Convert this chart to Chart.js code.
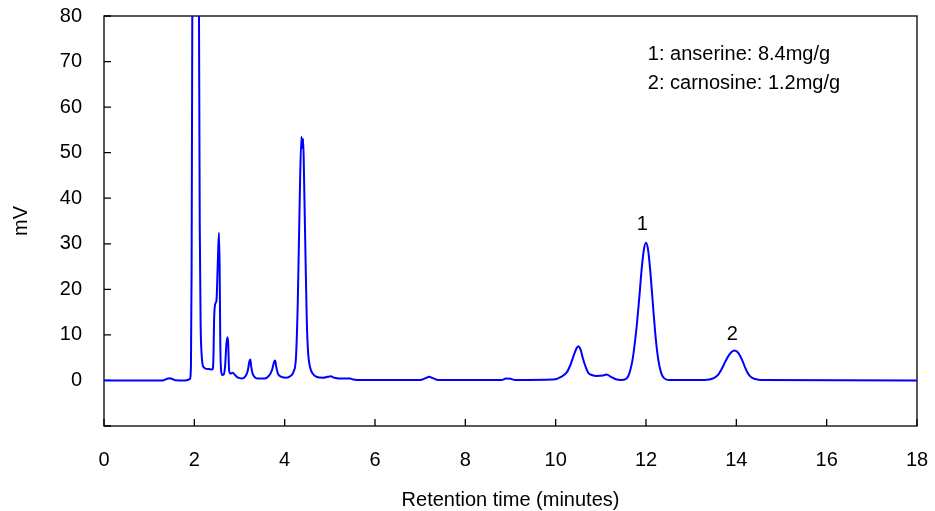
<!DOCTYPE html>
<html>
<head>
<meta charset="utf-8">
<script src="https://cdn.jsdelivr.net/npm/chart.js@4.4.0/dist/chart.umd.min.js"></script>
<style>
  html, body { margin: 0; padding: 0; background: #fff; }
  #wrap { width: 935px; height: 511px; position: relative; }
</style>
</head>
<body>
<div id="wrap"><canvas id="chromChart"></canvas></div>
<script>
// retention time (min) and detector signal (mV)
const times = [
    0, 1.0, 1.30, 1.38, 1.45, 1.52, 1.58, 1.80, 1.90, 1.925,
    1.94, 1.96, 1.99, 2.04, 2.10, 2.12, 2.14, 2.16, 2.19, 2.25,
    2.32, 2.40, 2.42, 2.44, 2.47, 2.49, 2.52, 2.545, 2.56, 2.575,
    2.59, 2.62, 2.65, 2.68, 2.71, 2.735, 2.75, 2.77, 2.80, 2.85,
    2.90, 2.97, 3.05, 3.12, 3.18, 3.22, 3.24, 3.26, 3.29, 3.35,
    3.42, 3.55, 3.65, 3.72, 3.77, 3.79, 3.81, 3.85, 3.93, 4.04,
    4.12, 4.20, 4.25, 4.29, 4.33, 4.37, 4.39, 4.41, 4.43, 4.46,
    4.49, 4.52, 4.56, 4.62, 4.70, 4.85, 4.95, 5.02, 5.10, 5.30,
    5.45, 5.52, 5.60, 7.00, 7.12, 7.20, 7.28, 7.40, 8.80, 8.90,
    9.00, 9.10, 9.95, 10.12, 10.24, 10.33, 10.40, 10.46, 10.50, 10.55,
    10.61, 10.67, 10.72, 10.80, 10.91, 11.05, 11.13, 11.22, 11.35, 11.45,
    11.55, 11.60, 11.65, 11.70, 11.75, 11.80, 11.85, 11.90, 11.95, 12.00,
    12.05, 12.10, 12.15, 12.20, 12.25, 12.30, 12.35, 12.40, 12.50, 13.30,
    13.40, 13.50, 13.60, 13.68, 13.76, 13.84, 13.90, 13.96, 14.02, 14.08,
    14.14, 14.20, 14.26, 14.33, 14.42, 14.55, 18.0
];
const signal = [
    0, 0, 0, 0.3, 0.5, 0.3, 0.05, 0, 0.3, 3,
    25, 100, 200, 240, 90, 34, 12, 6, 3.2, 2.6,
    2.5, 2.4, 4, 14, 17, 17.5, 26, 32.4, 25, 8,
    2.5, 1.2, 1.3, 3, 8, 9.5, 8, 2.2, 1.5, 1.7,
    1.2, 0.6, 0.45, 0.8, 2, 4.2, 4.6, 3, 1.5, 0.6,
    0.4, 0.4, 1, 2.3, 4.2, 4.4, 3.2, 1.5, 0.8, 0.6,
    0.9, 2, 5, 17, 38, 53.5, 51, 53, 44, 28,
    13, 6, 3, 1.5, 0.8, 0.6, 0.8, 0.9, 0.6, 0.4,
    0.4, 0.2, 0.1, 0.1, 0.5, 0.8, 0.5, 0.1, 0.1, 0.4,
    0.35, 0.1, 0.2, 0.8, 1.7, 3.5, 5.5, 7, 7.5, 6.8,
    4.6, 2.8, 1.7, 1.2, 1.0, 1.1, 1.3, 0.8, 0.2, 0.1,
    0.3, 0.8, 2.2, 4.4, 8, 12.5, 18, 24, 28.5, 30.2,
    28.4, 23.4, 17.1, 10.9, 6.1, 3.0, 1.3, 0.5, 0.1, 0.1,
    0.2, 0.5, 1.3, 2.6, 4.2, 5.6, 6.3, 6.6, 6.3, 5.5,
    4.2, 2.7, 1.5, 0.7, 0.3, 0.1, 0
];

// peak numbers and where they sit (data units)
const peakLabels = ['1', '2'];
const peakLabelX = [11.92, 13.91];
const peakLabelY = [34.3, 10.1];

// results text block
const resultLines = ['1: anserine: 8.4mg/g', '2: carnosine: 1.2mg/g'];
const resultX = 12.04;
const resultY = [71.5, 65.1];

const xTicks = [0, 2, 4, 6, 8, 10, 12, 14, 16, 18];
const yTicks = [-10, 0, 10, 20, 30, 40, 50, 60, 70, 80];

const FONT = 'Liberation Sans, Arial, sans-serif';

const framePlugin = {
    id: 'frame',
    beforeDatasetsDraw(chart) {
        const ctx = chart.ctx;
        const a = chart.chartArea;
        const xs = chart.scales.x;
        const ys = chart.scales.y;
        ctx.save();
        ctx.strokeStyle = '#000';
        ctx.lineWidth = 1.3;
        ctx.strokeRect(a.left, a.top, a.right - a.left, a.bottom - a.top);
        ctx.beginPath();
        xTicks.forEach(v => {
            const px = xs.getPixelForValue(v);
            ctx.moveTo(px, a.bottom);
            ctx.lineTo(px, a.bottom - 7);
        });
        yTicks.forEach(v => {
            const py = ys.getPixelForValue(v);
            ctx.moveTo(a.left, py);
            ctx.lineTo(a.left + 7, py);
        });
        ctx.stroke();
        ctx.restore();
    },
    afterDatasetsDraw(chart) {
        const ctx = chart.ctx;
        const xs = chart.scales.x;
        const ys = chart.scales.y;
        ctx.save();
        ctx.fillStyle = '#000';
        ctx.font = '20px ' + FONT;
        ctx.textBaseline = 'middle';
        ctx.textAlign = 'center';
        peakLabels.forEach((t, i) => {
            ctx.fillText(t, xs.getPixelForValue(peakLabelX[i]), ys.getPixelForValue(peakLabelY[i]));
        });
        ctx.textAlign = 'left';
        resultLines.forEach((t, i) => {
            ctx.fillText(t, xs.getPixelForValue(resultX), ys.getPixelForValue(resultY[i]));
        });
        ctx.restore();
    }
};

// invisible tick marks give the label gap without the extra edge padding
const hiddenGrid = len => ({
    display: true,
    drawOnChartArea: false,
    drawTicks: true,
    tickLength: len,
    tickColor: 'rgba(0,0,0,0)'
});

const ctx = document.getElementById('chromChart').getContext('2d');
new Chart(ctx, {
    type: 'line',
    data: {
        datasets: [{
            label: 'signal',
            data: times.map((t, i) => ({x: t, y: signal[i]})),
            borderColor: '#0000ff',
            borderWidth: 2,
            pointRadius: 0,
            fill: false,
            cubicInterpolationMode: 'monotone'
        }]
    },
    options: {
        responsive: true,
        maintainAspectRatio: false,
        animation: false,
        devicePixelRatio: 1,
        layout: { padding: { top: 16, right: 18, left: 0, bottom: 0 } },
        plugins: { legend: { display: false }, tooltip: { enabled: false } },
        scales: {
            x: {
                type: 'linear',
                min: 0,
                max: 18,
                grid: hiddenGrid(22),
                border: { display: false },
                afterBuildTicks: s => { s.ticks = xTicks.map(v => ({value: v})); },
                afterFit: s => { s.height = 85; },
                ticks: { color: '#000', padding: 0, maxRotation: 0, font: { family: FONT, size: 20 } },
                title: {
                    display: true,
                    text: 'Retention time (minutes)',
                    color: '#000',
                    font: { family: FONT, size: 20, lineHeight: 1 },
                    padding: { top: 0, bottom: 1 }
                }
            },
            y: {
                min: -10,
                max: 80,
                grid: hiddenGrid(22),
                border: { display: false },
                afterBuildTicks: s => { s.ticks = yTicks.map(v => ({value: v})); },
                afterFit: s => { s.width = 104; },
                ticks: {
                    color: '#000',
                    padding: 0,
                    font: { family: FONT, size: 20 },
                    callback: v => (v < 0 ? '' : v)
                },
                title: {
                    display: true,
                    text: 'mV',
                    color: '#000',
                    font: { family: FONT, size: 20, lineHeight: 1 },
                    padding: { top: 11, bottom: 0 }
                }
            }
        }
    },
    plugins: [framePlugin]
});
</script>
</body>
</html>
